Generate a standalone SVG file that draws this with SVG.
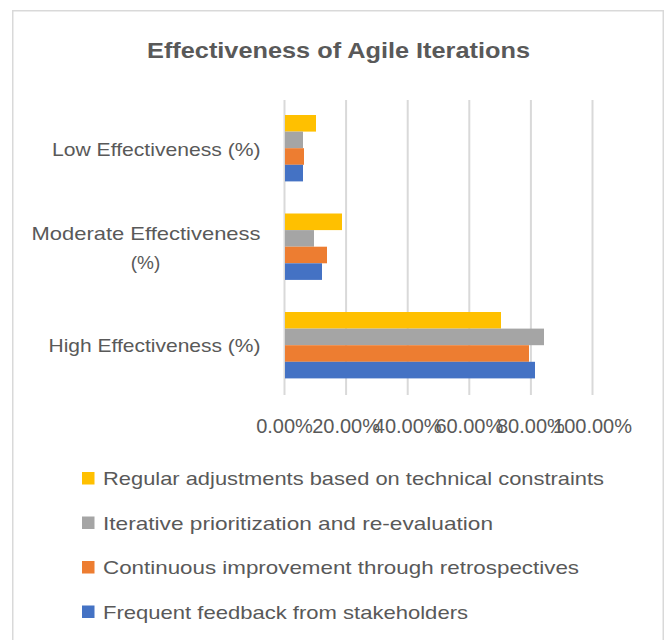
<svg xmlns="http://www.w3.org/2000/svg" width="668" height="640" viewBox="0 0 668 640">
<style>
.t{font-family:"Liberation Sans",Arial,sans-serif;fill:#595959}
.title{font-size:22px;font-weight:bold}
.lbl{font-size:19px}
.ax{font-size:20px}
.grid{stroke:#d9d9d9;stroke-width:2}
.y{fill:#FFC000}.g{fill:#A5A5A5}.o{fill:#ED7D31}.b{fill:#4472C4}
</style>
<rect x="0" y="0" width="668" height="640" fill="#ffffff"/>
<rect id="frame" x="12.75" y="10.75" width="650.5" height="700" fill="#ffffff" stroke="#d9d9d9" stroke-width="1.5"/>
<g id="title"><text class="t title" x="338.5" y="58" text-anchor="middle" textLength="383" lengthAdjust="spacingAndGlyphs">Effectiveness of Agile Iterations</text></g>
<g id="gridlines">
<line class="grid" x1="284.5" y1="100" x2="284.5" y2="395"/>
<line class="grid" x1="346.1" y1="100" x2="346.1" y2="395"/>
<line class="grid" x1="407.7" y1="100" x2="407.7" y2="395"/>
<line class="grid" x1="469.3" y1="100" x2="469.3" y2="395"/>
<line class="grid" x1="530.9" y1="100" x2="530.9" y2="395"/>
<line class="grid" x1="592.5" y1="100" x2="592.5" y2="395"/>
</g>
<g id="bars-low">
<rect class="y" x="285" y="115" width="31" height="16.6"/>
<rect class="g" x="285" y="131.6" width="18" height="16.6"/>
<rect class="o" x="285" y="148.2" width="19" height="16.6"/>
<rect class="b" x="285" y="164.8" width="18" height="16.6"/>
</g>
<g id="bars-moderate">
<rect class="y" x="285" y="213.5" width="57" height="16.6"/>
<rect class="g" x="285" y="230.1" width="29" height="16.6"/>
<rect class="o" x="285" y="246.7" width="42" height="16.6"/>
<rect class="b" x="285" y="263.3" width="37" height="16.6"/>
</g>
<g id="bars-high">
<rect class="y" x="285" y="312" width="216" height="16.6"/>
<rect class="g" x="285" y="328.6" width="259" height="16.6"/>
<rect class="o" x="285" y="345.2" width="244" height="16.6"/>
<rect class="b" x="285" y="361.8" width="250" height="16.6"/>
</g>
<g id="category-labels">
<text class="t lbl" x="260.5" y="156" text-anchor="end" textLength="208.5" lengthAdjust="spacingAndGlyphs">Low Effectiveness (%)</text>
<text class="t lbl" x="146" y="240" text-anchor="middle" textLength="229" lengthAdjust="spacingAndGlyphs">Moderate Effectiveness</text>
<text class="t lbl" x="145.5" y="269" text-anchor="middle">(%)</text>
<text class="t lbl" x="260.5" y="352" text-anchor="end" textLength="212" lengthAdjust="spacingAndGlyphs">High Effectiveness (%)</text>
</g>
<g id="axis-labels">
<text class="t ax" x="284.5" y="433" text-anchor="middle">0.00%</text>
<text class="t ax" x="346.1" y="433" text-anchor="middle">20.00%</text>
<text class="t ax" x="407.7" y="433" text-anchor="middle">40.00%</text>
<text class="t ax" x="469.3" y="433" text-anchor="middle">60.00%</text>
<text class="t ax" x="530.9" y="433" text-anchor="middle">80.00%</text>
<text class="t ax" x="592.5" y="433" text-anchor="middle">100.00%</text>
</g>
<g id="legend">
<rect class="y" x="82" y="472" width="12.5" height="12.5"/>
<text class="t lbl" x="103" y="485" textLength="501" lengthAdjust="spacingAndGlyphs">Regular adjustments based on technical constraints</text>
<rect class="g" x="82" y="516.5" width="12.5" height="12.5"/>
<text class="t lbl" x="103" y="529.5" textLength="390" lengthAdjust="spacingAndGlyphs">Iterative prioritization and re-evaluation</text>
<rect class="o" x="82" y="561" width="12.5" height="12.5"/>
<text class="t lbl" x="103" y="574" textLength="476" lengthAdjust="spacingAndGlyphs">Continuous improvement through retrospectives</text>
<rect class="b" x="82" y="605.5" width="12.5" height="12.5"/>
<text class="t lbl" x="103" y="618.5" textLength="365" lengthAdjust="spacingAndGlyphs">Frequent feedback from stakeholders</text>
</g>
</svg>
